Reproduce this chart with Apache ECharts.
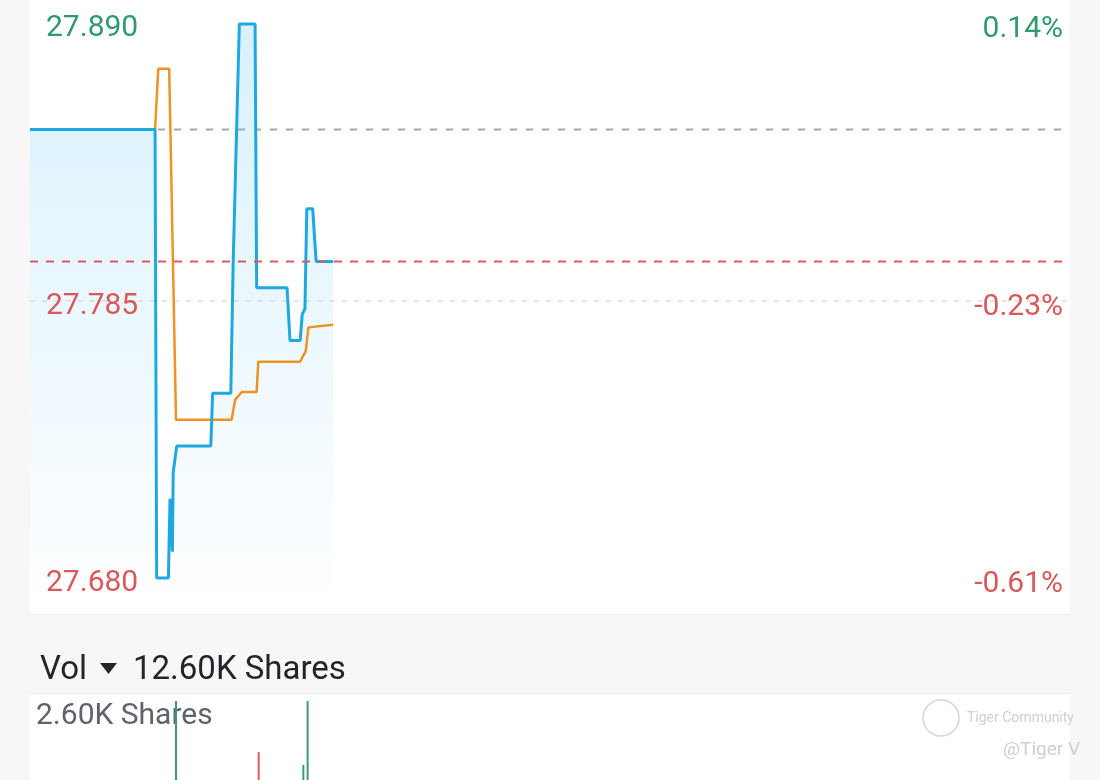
<!DOCTYPE html>
<html><head><meta charset="utf-8">
<script src="https://cdn.jsdelivr.net/npm/echarts@6/dist/echarts.min.js"></script>
<style>html,body{margin:0;padding:0;background:#f7f7f7}#c{width:1100px;height:780px}</style>
</head><body><div id="c"></div>
<script>
// ---- data (minutes since session open, prices, volumes) ----
const sessionMinutes = 390;
const prevClose = 27.85;
const lastPrice = 27.80;
const midPrice = 27.785;
const priceTicks = [27.68, 27.785, 27.89];

const tradeMinutes = [0, 46.9, 47.5, 51.9, 52.5, 53.4, 53.7, 55.0, 67.8, 68.5, 75.3, 76.2, 78.5, 84.4, 85.0, 96.4, 97.5, 101.3, 102.1, 103.1, 103.8, 106.0, 107.3, 113.7];
const tradePrice   = [27.85, 27.85, 27.68, 27.68, 27.71, 27.69, 27.72, 27.73, 27.73, 27.75, 27.75, 27.80, 27.89, 27.89, 27.79, 27.79, 27.77, 27.77, 27.78, 27.782, 27.82, 27.82, 27.80, 27.80];

const avgMinutes = [46.9, 48.1, 52.2, 54.75, 75.6, 76.9, 79.4, 85.0, 85.6, 101.3, 103.4, 104.4, 113.7];
const avgPrice   = [27.85, 27.873, 27.873, 27.74, 27.74, 27.7475, 27.7505, 27.7505, 27.762, 27.762, 27.766, 27.775, 27.776];

const volMinutes = [47.0, 52.5, 54.75, 68.5, 76.5, 78.5, 85.75, 97.5, 102.5, 104.1, 107.3];
const volShares  = [900, 400, 2600, 700, 500, 300, 1907, 460, 1733, 2600, 500];
const volSide    = ['sell', 'buy', 'buy', 'buy', 'buy', 'buy', 'sell', 'sell', 'buy', 'buy', 'sell'];

// ---- chart ----
const GREEN = '#2f9a6c', RED = '#d9585a';
const zip = (a, b) => a.map((x, i) => [x, b[i]]);
const hline = v => [[0, v], [sessionMinutes, v]];
const pct = v => (v - prevClose) / prevClose * 100;
const volMax = Math.max(...volShares);
const volTotal = volShares.reduce((s, v) => s + v, 0);
const yMin = 27.68 - 36 / 2638.1, yMax = 27.89 + 24 / 2638.1;

const chart = echarts.init(document.getElementById('c'));
const font = 'Roboto';
const noAxis = {axisLine: {show: false}, axisTick: {show: false}, splitLine: {show: false}};
const labRich = (padTop) => ({
  g: {fontFamily: font, fontSize: 30, color: GREEN, padding: [padTop, 0, 0, 0]},
  r: {fontFamily: font, fontSize: 30, color: RED, padding: [padTop, 0, 0, 0]}
});
const tag = v => (Number(v) >= prevClose ? 'g' : 'r');
chart.setOption({
  backgroundColor: '#f7f7f7',
  animation: false,
  grid: [
    {left: 30, width: 1040, top: 0, height: 614, show: true, backgroundColor: '#fff', borderWidth: 0, outerBoundsMode: 'none'},
    {left: 30, width: 1040, top: 693, height: 200, show: true, backgroundColor: '#fff', borderWidth: 0, outerBoundsMode: 'none'}
  ],
  xAxis: [
    {type: 'value', gridIndex: 0, min: 0, max: sessionMinutes, axisLabel: {show: false}, axisTick: {show: false}, splitLine: {show: false},
     axisLine: {show: true, onZero: false, lineStyle: {color: '#ececec', width: 1}}},
    {type: 'value', gridIndex: 1, min: 0, max: sessionMinutes, position: 'top', axisLabel: {show: false}, axisTick: {show: false}, splitLine: {show: false},
     axisLine: {show: true, onZero: false, lineStyle: {color: '#ececec', width: 1}}}
  ],
  yAxis: [
    Object.assign({type: 'value', gridIndex: 0, position: 'left', min: yMin, max: yMax, z: 20,
     axisLabel: {inside: true, margin: 16, customValues: priceTicks, rich: labRich(10),
       formatter: v => '{' + tag(v) + '|' + Number(v).toFixed(3) + '}'}}, noAxis),
    Object.assign({type: 'value', gridIndex: 0, position: 'right', min: yMin, max: yMax, z: 20,
     axisLabel: {inside: true, margin: 7, customValues: priceTicks, rich: labRich(12),
       formatter: v => '{' + tag(v) + '|' + pct(Number(v)).toFixed(2) + '%}'}}, noAxis),
    Object.assign({type: 'value', gridIndex: 1, min: 0, max: volMax / 0.96, axisLabel: {show: false}}, noAxis)
  ],
  series: [
    {type: 'line', name: 'area', xAxisIndex: 0, yAxisIndex: 0, data: zip(tradeMinutes, tradePrice), showSymbol: false, silent: true,
     lineStyle: {width: 0}, z: 1,
     areaStyle: {color: new echarts.graphic.LinearGradient(0, 0, 0, 1, [
       {offset: 0, color: 'rgba(190,232,251,0.85)'},
       {offset: 1, color: 'rgba(255,255,255,0.9)'}])}},
    {type: 'line', name: 'mid', xAxisIndex: 0, yAxisIndex: 0, data: hline(midPrice), showSymbol: false, silent: true, z: 2,
     lineStyle: {color: '#dcdcdc', type: [5, 7], width: 1.5}},
    {type: 'line', name: 'prevClose', xAxisIndex: 0, yAxisIndex: 0, data: hline(prevClose), showSymbol: false, silent: true, z: 2,
     lineStyle: {color: '#a9a9ad', type: [7, 9], width: 2}},
    {type: 'line', name: 'avg', xAxisIndex: 0, yAxisIndex: 0, data: zip(avgMinutes, avgPrice), showSymbol: false,
     lineStyle: {color: '#ef9224', width: 2.5}, z: 3},
    {type: 'line', name: 'price', xAxisIndex: 0, yAxisIndex: 0, data: zip(tradeMinutes, tradePrice), showSymbol: false,
     lineStyle: {color: '#1da8e2', width: 3}, z: 4},
    {type: 'line', name: 'last', xAxisIndex: 0, yAxisIndex: 0, data: hline(lastPrice), showSymbol: false, silent: true, z: 5,
     lineStyle: {color: '#dd5a5c', type: [8, 8], width: 2}},
    {type: 'bar', name: 'vol', xAxisIndex: 1, yAxisIndex: 2, barWidth: 2,
     data: volMinutes.map((t, i) => ({value: [t, volShares[i]], itemStyle: {color: volSide[i] === 'buy' ? '#3b9a78' : '#e0595b'}}))}
  ],
  graphic: [
    {type: 'text', left: 40, top: 654, style: {text: 'Vol', font: '33px Roboto', fill: '#23252a'}},
    {type: 'polygon', shape: {points: [[100, 663], [117, 663], [108.5, 674]]}, style: {fill: '#23252a'}},
    {type: 'text', left: 133, top: 654, style: {text: (volTotal / 1000).toFixed(2) + 'K Shares', font: '33px Roboto', fill: '#23252a'}},
    {type: 'text', left: 36, top: 701, style: {text: (volMax / 1000).toFixed(2) + 'K Shares', font: '30px Roboto', fill: '#5f636b'}},
    {type: 'circle', shape: {cx: 941, cy: 718, r: 18}, style: {fill: 'none', stroke: '#d6d6d6', lineWidth: 1.5}},
    {type: 'text', left: 967, top: 711, style: {text: 'Tiger Community', font: '14px Roboto', fill: '#cfcfcf'}},
    {type: 'text', left: 1003, top: 741, style: {text: '@Tiger V', font: '19px Roboto', fill: '#cfcfcf'}}
  ]
});
</script></body></html>
